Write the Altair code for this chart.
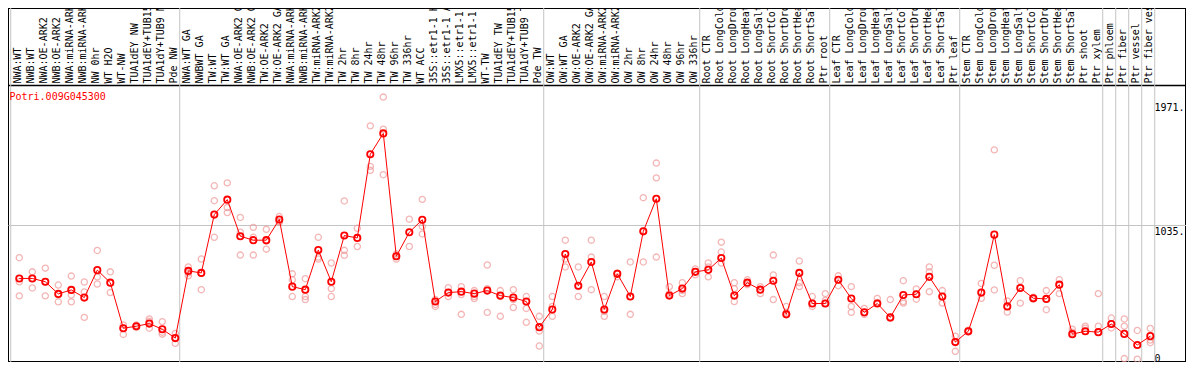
import altair as alt
import pandas as pd

gene = "Potri.009G045300"

labels = [
    "NWA:WT", "NWB:WT", "NWA:OE-ARK2", "NWB:OE-ARK2", "NWA:miRNA-ARK2", "NWB:miRNA-ARK2",
    "NW 0hr", "WT H2O", "WT-NW", "TUA1dEY NW", "TUA1dEY+TUB15 NW", "TUA1dY+TUB9 NW", "Pde NW",
    "NWA:WT GA", "NWBWT GA", "TW:WT", "TW:WT GA", "NWA:OE-ARK2 GA", "NWB:OE-ARK2 GA",
    "TW:OE-ARK2", "TW:OE-ARK2 GA", "NWA:miRNA-ARK2", "NWB:miRNA-ARK2", "TW:miRNA-ARK2",
    "TW:miRNA-ARK2", "TW 2hr", "TW 8hr", "TW 24hr", "TW 48hr", "TW 96hr", "TW 336hr", "WT ACC",
    "35S::etr1-1 H2O", "35S::etr1-1 ACC", "LMX5::etr1-1 H2O", "LMX5::etr1-1 ACC", "WT-TW",
    "TUA1dEY TW", "TUA1dEY+TUB15 TW", "TUA1dY+TUB9 TW", "Pde TW",
    "OW:WT", "OW:WT GA", "OW:OE-ARK2", "OW:OE-ARK2 GA", "OW:miRNA-ARK2", "OW:miRNA-ARK2",
    "OW 2hr", "OW 8hr", "OW 24hr", "OW 48hr", "OW 96hr", "OW 336hr",
    "Root CTR", "Root LongCold", "Root LongDrought", "Root LongHeat", "Root LongSalt",
    "Root ShortCold", "Root ShortDrought", "Root ShortHeat", "Root ShortSalt", "Ptr root",
    "Leaf CTR", "Leaf LongCold", "Leaf LongDrought", "Leaf LongHeat", "Leaf LongSalt",
    "Leaf ShortCold", "Leaf ShortDrought", "Leaf ShortHeat", "Leaf ShortSalt", "Ptr leaf",
    "Stem CTR", "Stem LongCold", "Stem LongDrought", "Stem LongHeat", "Stem LongSalt",
    "Stem ShortCold", "Stem ShortDrought", "Stem ShortHeat", "Stem ShortSalt", "Ptr shoot",
    "Ptr xylem", "Ptr phloem", "Ptr fiber", "Ptr vessel", "Ptr fiber vessel",
]

group_sizes = [13, 28, 12, 10, 10, 11, 1, 1, 1, 1]

mean_vals = [
    633, 633, 608, 516, 546, 488, 696, 601, 256, 271, 291, 248, 181,
    690, 675, 1117, 1230, 953, 923, 923, 1080, 571, 548, 848, 608, 958, 940, 1574, 1732,
    801, 983, 1078, 458, 526, 533, 518, 541, 503, 488, 458, 264,
    398, 818, 578, 758, 398, 668, 496, 990, 1237, 503, 556, 683,
    698, 788, 503, 601, 548, 616, 361, 675, 443, 443,
    623, 481, 376, 443, 338, 508, 513, 645, 496, 151,
    233, 526, 965, 421, 561, 483, 478, 586, 211, 233, 226,
    288, 213, 129, 196,
]

rep_a = [
    790, 683, 711, 583, 651, 606, 845, 683, 281, 280, 326, 306, 216,
    720, 780, 1335, 1357, 1095, 1020, 1005, 1102, 668, 631, 945, 750, 1220, 1013, 1789, 2007,
    818, 1082, 1232, 473, 563, 571, 541, 735, 541, 548, 496, 346,
    496, 923, 720, 923, 496, 675, 758, 1245, 1507, 571, 601, 705,
    750, 908, 601, 623, 571, 810, 421, 765, 496, 518,
    653, 571, 406, 481, 473, 616, 553, 720, 541, 196,
    241, 595, 1607, 463, 616, 483, 541, 623, 249, 256, 518,
    333, 326, 239, 254,
]
rep_b = [
    608, 633, 608, 511, 508, 531, 645, 601, 256, 271, 308, 226, 181,
    653, 548, 1222, 1170, 983, 945, 915, 1065, 623, 496, 795, 556, 846, 875, 1482, 1764,
    803, 875, 1028, 436, 526, 511, 496, 556, 496, 473, 406, 234,
    421, 780, 571, 795, 383, 645, 496, 990, 1395, 518, 541, 660,
    720, 833, 556, 586, 518, 660, 376, 601, 421, 466,
    578, 421, 361, 451, 331, 458, 476, 683, 446, 81,
    233, 483, 733, 378, 446, 490, 396, 518, 226, 271, 271,
    258, 271, 21, 166,
]
rep_c = [
    501, 561, 501, 456, 456, 338, 591, 526, 209, 262, 256, 211, 141,
    675, 675, 945, 1132, 810, 810, 855, 1058, 496, 473, 780, 496, 808, 940, 1452, 1419,
    780, 983, 970, 421, 496, 361, 481, 376, 346, 413, 301, 121,
    346, 720, 496, 548, 346, 668, 361, 758, 795, 503, 518, 683,
    645, 750, 458, 601, 548, 473, 361, 571, 443, 443,
    623, 376, 376, 443, 338, 446, 513, 533, 496, 151,
    226, 526, 546, 421, 561, 476, 478, 586, 211, 233, 226,
    288, 26, 129, 146,
]

y_ticks = [0, 1035, 1971]
y_tick_labels = ["0", "1035.", "1971."]

# ---------------------------------------------------------------- data frames
n = len(labels)
idx = list(range(n))
df_mean = pd.DataFrame({"i": idx, "v": mean_vals})
rep_rows = []
for reps in (rep_a, rep_b, rep_c):
    for i, v in enumerate(reps):
        rep_rows.append({"i": i, "v": v})
df_rep = pd.DataFrame(rep_rows)

starts = [0]
for g in group_sizes:
    starts.append(starts[-1] + g)
df_bound = pd.DataFrame({"i": [s - 0.66 for s in starts]})
df_gene = pd.DataFrame({"t": [gene]})

# ---------------------------------------------------------------- scales / axes
W, H = 1178, 354
step = 13.0
x0 = 11.3
xs = alt.Scale(domain=[-x0 / step, (W - x0) / step], nice=False, zero=False)
ys = alt.Scale(domain=[0, 2682], nice=False, zero=False)

font = "DejaVu Sans Mono"
label_js = "[" + ",".join("'" + s + "'" for s in labels) + "]"
ytick_js = "{" + ",".join("'%s':'%s'" % (v, s) for v, s in zip(y_ticks, y_tick_labels)) + "}"

x_axis = alt.Axis(
    orient="top", offset=-77, values=idx, labelExpr=label_js + "[datum.value]",
    labelAngle=270, labelAlign="left", labelBaseline="middle", labelPadding=2,
    labelOffset=-2, ticks=False, tickSize=0, grid=False, domainColor="black",
    domainWidth=1.5, labelFont=font, labelFontSize=10, labelColor="black",
    labelLimit=400, labelOverlap=False, labelFlush=False, title=None,
)
y_axis = alt.Axis(
    orient="right", offset=-32, values=y_ticks, labelExpr=ytick_js + "[datum.value + '']",
    ticks=False, tickSize=0, domain=False, grid=True, gridColor="#c4c4c4", gridWidth=1,
    gridOpacity={"condition": {"test": "datum.value === %d" % y_ticks[1], "value": 1}, "value": 0},
    labelAlign="left", labelPadding=0, labelOffset=1,
    labelBaseline={"condition": {"test": "datum.value === 0", "value": "bottom"}, "value": "top"},
    labelFont=font, labelFontSize=10, labelColor="black", labelFlush=False, title=None,
)

x_enc = alt.X("i:Q", scale=xs, axis=x_axis)
y_enc = alt.Y("v:Q", scale=ys, axis=y_axis)

bounds = alt.Chart(df_bound).mark_rule(color="#c4c4c4", strokeWidth=1).encode(x=x_enc)
reps = alt.Chart(df_rep).mark_point(
    shape="circle", filled=False, color="#f09898", size=38, strokeWidth=1.3
).encode(x=x_enc, y=y_enc)
line = alt.Chart(df_mean).mark_line(color="#ff0000", strokeWidth=1).encode(x=x_enc, y=y_enc)
means = alt.Chart(df_mean).mark_point(
    shape="circle", filled=False, color="#ff0000", size=40, strokeWidth=1.8, opacity=1
).encode(x=x_enc, y=y_enc)
gene_text = alt.Chart(df_gene).mark_text(
    align="left", baseline="middle", color="#ff0000", font=font, fontSize=10
).encode(x=alt.value(1.5), y=alt.value(89), text="t:N")

chart = (
    alt.layer(bounds, reps, line, means, gene_text)
    .properties(width=W, height=H, autosize=alt.AutoSizeParams(type="none"), padding=0,
                background="white")
    .configure_view(stroke="black", strokeWidth=2)
)

chart.save("out.html", embed_options={"renderer": "svg", "actions": False})
